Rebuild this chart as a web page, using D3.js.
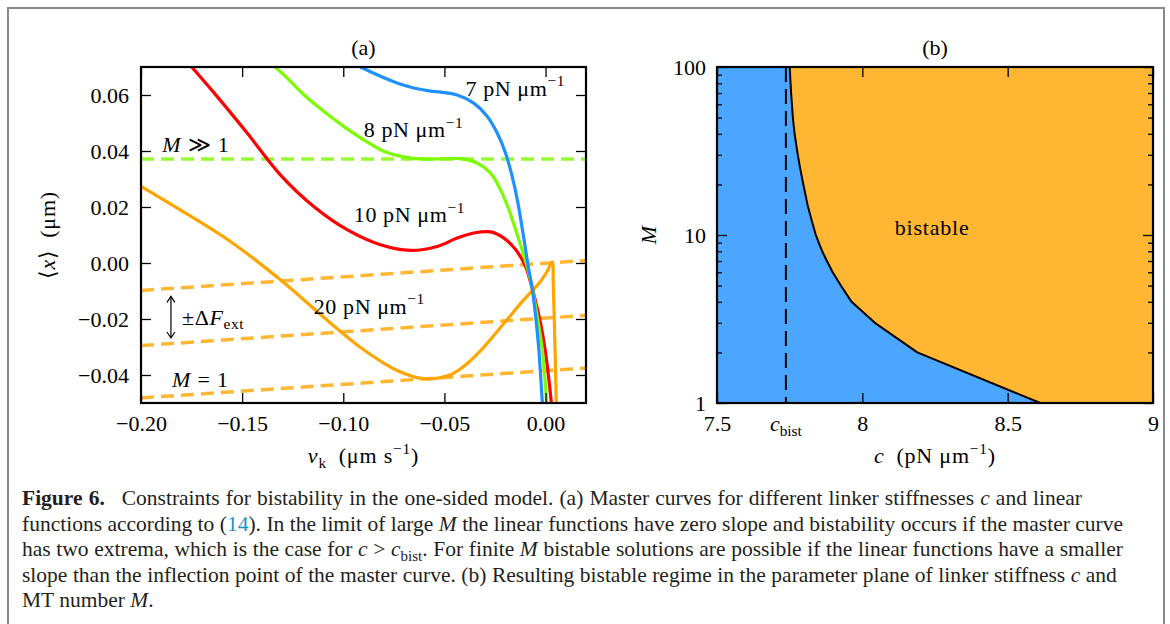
<!DOCTYPE html>
<html>
<head>
<meta charset="utf-8">
<script src="https://cdn.jsdelivr.net/npm/d3@7"></script>
<style>
  body { margin: 0; background: #fff; }
  svg { display: block; font-family: "Liberation Serif", "Tinos", "Times New Roman", "DejaVu Serif", serif; }
</style>
</head>
<body>
<svg id="fig" width="1170" height="624"></svg>
<script>
// ---- Panel (a): master curves <x>(v_k) for several linker stiffnesses ----
const curve7Vk  = [-0.0915,-0.0816,-0.0734,-0.0651,-0.0569,-0.0519,-0.0437,-0.0355,-0.0289,-0.0239,-0.0198,-0.0165,-0.0138,-0.0110,-0.0085,-0.0066,-0.0049,-0.0033,-0.0016,-0.0012];
const curve7X   = [ 0.0700, 0.0667, 0.0643, 0.0625, 0.0614, 0.0610, 0.0600, 0.0571, 0.0524, 0.0464, 0.0393, 0.0309, 0.0220, 0.0100,-0.0015,-0.0089,-0.0191,-0.0310,-0.0494,-0.0520];

const curve8Vk  = [-0.1336,-0.1278,-0.1195,-0.1097,-0.0998,-0.0899,-0.0800,-0.0701,-0.0602,-0.0519,-0.0420,-0.0338,-0.0272,-0.0223,-0.0181,-0.0148,-0.0113,-0.0085,-0.0066,-0.0041,-0.0016, 0.0005, 0.0007];
const curve8X   = [ 0.0700, 0.0661, 0.0601, 0.0542, 0.0488, 0.0440, 0.0399, 0.0379, 0.0371, 0.0372, 0.0373, 0.0357, 0.0321, 0.0262, 0.0190, 0.0119, 0.0040,-0.0030,-0.0089,-0.0191,-0.0310,-0.0494,-0.0520];

const curve10Vk = [-0.1749,-0.1624,-0.1475,-0.1311,-0.1146,-0.0981,-0.0816,-0.0668,-0.0536,-0.0437,-0.0355,-0.0272,-0.0206,-0.0148,-0.0099,-0.0070,-0.0045,-0.0025, 0.0000, 0.0028, 0.0031];
const curve10X  = [ 0.0700, 0.0595, 0.0464, 0.0315, 0.0202, 0.0119, 0.0065, 0.0045, 0.0059, 0.0089, 0.0107, 0.0111, 0.0089, 0.0048,-0.0012,-0.0080,-0.0150,-0.0214,-0.0321,-0.0494,-0.0520];

const curve20Vk = [-0.2000,-0.1806,-0.1558,-0.1311,-0.1064,-0.0899,-0.0734,-0.0602,-0.0470,-0.0404,-0.0322,-0.0190,-0.0107,-0.0025, 0.0008, 0.0033, 0.0038, 0.0045, 0.0053, 0.0054];
const curve20X  = [ 0.0274, 0.0190, 0.0077,-0.0060,-0.0214,-0.0310,-0.0384,-0.0413,-0.0399,-0.0369,-0.0314,-0.0202,-0.0131,-0.0066,-0.0030, 0.0004,-0.0071,-0.0250,-0.0494,-0.0520];

// linear functions: flat one for M >> 1, sloped ones (+/- dF_ext) for M = 1
const linearVk    = [-0.20, 0.02];
const largeMX     = [0.0371, 0.0371];
const linearUpper = [-0.0098, 0.0009];
const linearMid   = [-0.0295,-0.0187];
const linearLower = [-0.0482,-0.0375];

const xTicksA = [-0.20, -0.15, -0.10, -0.05, 0.00];
const yTicksA = [-0.04, -0.02, 0.00, 0.02, 0.04, 0.06];

// ---- Panel (b): bistability boundary in the (c, M) plane ----
const boundaryM = [1, 2, 3, 4, 5, 6, 7, 8, 9, 10, 12, 15, 20, 25, 30, 40, 50, 70, 100];
const boundaryC = [8.612, 8.189, 8.043, 7.963, 7.926, 7.898, 7.878, 7.862, 7.850, 7.840, 7.827, 7.812, 7.797, 7.786, 7.778, 7.767, 7.761, 7.755, 7.750];
const cBist = 7.737;
const xTicksB = [7.5, 8, 8.5, 9];
const yTicksB = [1, 10, 100];
const yMinorB = [2,3,4,5,6,7,8,9,20,30,40,50,60,70,80,90];

const svg = d3.select("#fig");
const FS = 22;
const SERIF = "Liberation Serif, Tinos, Times New Roman, DejaVu Serif, serif";

// outer figure frame
svg.append("rect").attr("x", 8).attr("y", 8).attr("width", 1156).attr("height", 700)
  .attr("fill", "none").attr("stroke", "#8a8a8a").attr("stroke-width", 2);

// rich text: parts with italic / sub / sup
function richText(g, x, y, parts, size, anchor) {
  const t = g.append("text").attr("x", x).attr("y", y).attr("font-family", SERIF)
    .attr("font-size", size).attr("text-anchor", anchor || "start").attr("fill", "#000");
  let shift = 0;
  parts.forEach(p => {
    const target = p.sup ? -0.42 * size : p.sub ? 0.22 * size : 0;
    const ts = t.append("tspan").text(p.t).attr("dy", target - shift);
    shift = target;
    if (p.sup || p.sub) ts.attr("font-size", size * 0.7);
    if (p.it) ts.attr("font-style", "italic");
    if (p.bold) ts.attr("font-weight", "bold");
    if (p.fill) ts.attr("fill", p.fill);
  });
  return t;
}

// ================= Panel (a) =================
const A = { l: 141, r: 586, t: 67, b: 403 };
const xA = d3.scaleLinear().domain([-0.20, 0.02]).range([A.l, A.r]);
const yA = d3.scaleLinear().domain([-0.05, 0.07]).range([A.b, A.t]);
const gA = svg.append("g");

svg.append("clipPath").attr("id", "clipA").append("rect")
  .attr("x", A.l).attr("y", A.t).attr("width", A.r - A.l).attr("height", A.b - A.t);
const plotA = gA.append("g").attr("clip-path", "url(#clipA)");

const lineA = d3.line().x(d => xA(d[0])).y(d => yA(d[1]));
const smoothA = d3.line().x(d => xA(d[0])).y(d => yA(d[1])).curve(d3.curveCatmullRom.alpha(0.5));

// dashed linear functions
[[largeMX, "#7CFC00"], [linearUpper, "#FFA500"], [linearMid, "#FFA500"], [linearLower, "#FFA500"]]
  .forEach(([ys, col]) => {
    plotA.append("path").datum(d3.zip(linearVk, ys)).attr("d", lineA)
      .attr("fill", "none").attr("stroke", col).attr("stroke-opacity", 0.8)
      .attr("stroke-width", 3.5).attr("stroke-dasharray", "13,7");
  });

// master curves
[[curve20Vk, curve20X, "#FFA500"], [curve10Vk, curve10X, "#FF0000"],
 [curve8Vk, curve8X, "#7CFC00"], [curve7Vk, curve7X, "#1E90FF"]]
  .forEach(([vs, xs, col]) => {
    plotA.append("path").datum(d3.zip(vs, xs)).attr("d", smoothA)
      .attr("fill", "none").attr("stroke", col).attr("stroke-width", 3.2)
      .attr("stroke-linejoin", "round");
  });

// axes (ticks pointing inward on all sides)
const fmtA = d3.format(".2f");
function styleAxis(g) {
  g.select(".domain").remove();
  g.attr("font-family", SERIF);
  g.selectAll(".tick line").attr("stroke", "#000").attr("stroke-width", 1.3);
  g.selectAll(".tick text").attr("font-size", FS).attr("font-family", SERIF).attr("fill", "#000");
}
gA.append("g").attr("transform", `translate(0,${A.b})`)
  .call(d3.axisBottom(xA).tickValues(xTicksA).tickFormat(fmtA).tickSize(-10).tickPadding(12)).call(styleAxis);
gA.append("g").attr("transform", `translate(0,${A.t})`)
  .call(d3.axisTop(xA).tickValues(xTicksA).tickFormat("").tickSize(-10)).call(styleAxis);
gA.append("g").attr("transform", `translate(${A.l},0)`)
  .call(d3.axisLeft(yA).tickValues(yTicksA).tickFormat(fmtA).tickSize(-10).tickPadding(12)).call(styleAxis);
gA.append("g").attr("transform", `translate(${A.r},0)`)
  .call(d3.axisRight(yA).tickValues(yTicksA).tickFormat("").tickSize(-10)).call(styleAxis);

gA.append("rect").attr("x", A.l).attr("y", A.t).attr("width", A.r - A.l).attr("height", A.b - A.t)
  .attr("fill", "none").attr("stroke", "#000").attr("stroke-width", 2.2);

// curve annotations
const mu = "\u03bcm";
richText(gA, xA(-0.0396), yA(0.0598), [{ t: "7 pN " + mu }, { t: "\u22121", sup: true }], FS).attr("letter-spacing", 0.6);
richText(gA, xA(-0.0899), yA(0.0450), [{ t: "8 pN " + mu }, { t: "\u22121", sup: true }], FS).attr("letter-spacing", 0.6);
richText(gA, xA(-0.0948), yA(0.0146), [{ t: "10 pN " + mu }, { t: "\u22121", sup: true }], FS).attr("letter-spacing", 0.6);
richText(gA, xA(-0.1146), yA(-0.0181), [{ t: "20 pN " + mu }, { t: "\u22121", sup: true }], FS).attr("letter-spacing", 0.6);
richText(gA, xA(-0.1895), yA(0.0395), [{ t: "M", it: true }, { t: " \u226b 1" }], FS).attr("letter-spacing", 0.8);
richText(gA, xA(-0.1847), yA(-0.0443), [{ t: "M", it: true }, { t: " = 1" }], FS).attr("letter-spacing", 0.8);
richText(gA, xA(-0.1797), yA(-0.0220), [{ t: "\u00b1\u0394" }, { t: "F", it: true }, { t: "ext", sub: true }], FS).attr("letter-spacing", 0.6);

// double-headed arrow for +/- dF_ext
const arrX = xA(-0.1852), arrY1 = yA(-0.0119), arrY2 = yA(-0.0268);
gA.append("line").attr("x1", arrX).attr("x2", arrX).attr("y1", arrY1).attr("y2", arrY2)
  .attr("stroke", "#000").attr("stroke-width", 1.2);
gA.append("path").attr("d", `M${arrX - 4},${arrY1 + 6}L${arrX},${arrY1}L${arrX + 4},${arrY1 + 6}`)
  .attr("fill", "none").attr("stroke", "#000").attr("stroke-width", 1.2);
gA.append("path").attr("d", `M${arrX - 4},${arrY2 - 6}L${arrX},${arrY2}L${arrX + 4},${arrY2 - 6}`)
  .attr("fill", "none").attr("stroke", "#000").attr("stroke-width", 1.2);

// titles and axis labels
richText(gA, (A.l + A.r) / 2, 55, [{ t: "(a)" }], FS, "middle");
richText(gA, (A.l + A.r) / 2, 463, [{ t: "v", it: true }, { t: "k", sub: true }, { t: "\u2002(" + mu + " s" }, { t: "\u22121", sup: true }, { t: ")" }], FS, "middle").attr("letter-spacing", 0.8);
const yLabA = gA.append("g").attr("transform", `translate(55,${(A.t + A.b) / 2}) rotate(-90)`);
richText(yLabA, 0, 0, [{ t: "\u27e8" }, { t: "x", it: true }, { t: "\u27e9\u2002(" + mu + ")" }], FS, "middle").attr("letter-spacing", 0.8);

// ================= Panel (b) =================
const B = { l: 717, r: 1153, t: 67, b: 403 };
const xB = d3.scaleLinear().domain([7.5, 9]).range([B.l, B.r]);
const yB = d3.scaleLog().domain([1, 100]).range([B.b, B.t]);
const gB = svg.append("g");

// monostable background and bistable region
gB.append("rect").attr("x", B.l).attr("y", B.t).attr("width", B.r - B.l).attr("height", B.b - B.t)
  .attr("fill", "#4BA6FF");

const boundary = d3.zip(boundaryC, boundaryM);
const bistableRegion = boundary.concat([[9, 100], [9, 1]]);
const lineB = d3.line().x(d => xB(d[0])).y(d => yB(d[1]));
gB.append("path").attr("d", lineB(bistableRegion) + "Z")
  .attr("fill", "#FFB733").attr("stroke", "none");
gB.append("path").datum(boundary).attr("d", lineB)
  .attr("fill", "none").attr("stroke", "#000").attr("stroke-width", 2).attr("stroke-linejoin", "round");
gB.append("line").attr("x1", xB(cBist)).attr("x2", xB(cBist)).attr("y1", B.t).attr("y2", B.b)
  .attr("stroke", "#000").attr("stroke-width", 2).attr("stroke-dasharray", "15,7");

const fmtB = d => String(d);
gB.append("g").attr("transform", `translate(0,${B.b})`)
  .call(d3.axisBottom(xB).tickValues(xTicksB).tickFormat(fmtB).tickSize(-10).tickPadding(12)).call(styleAxis);
gB.append("g").attr("transform", `translate(0,${B.t})`)
  .call(d3.axisTop(xB).tickValues(xTicksB).tickFormat("").tickSize(-10)).call(styleAxis);
gB.append("g").attr("transform", `translate(${B.l},0)`)
  .call(d3.axisLeft(yB).tickValues(yTicksB).tickFormat(fmtB).tickSize(-10).tickPadding(11)).call(styleAxis);
gB.append("g").attr("transform", `translate(${B.r},0)`)
  .call(d3.axisRight(yB).tickValues(yTicksB).tickFormat("").tickSize(-10)).call(styleAxis);
gB.append("g").attr("transform", `translate(${B.l},0)`)
  .call(d3.axisLeft(yB).tickValues(yMinorB).tickFormat("").tickSize(-5)).call(styleAxis);
gB.append("g").attr("transform", `translate(${B.r},0)`)
  .call(d3.axisRight(yB).tickValues(yMinorB).tickFormat("").tickSize(-5)).call(styleAxis);

gB.append("rect").attr("x", B.l).attr("y", B.t).attr("width", B.r - B.l).attr("height", B.b - B.t)
  .attr("fill", "none").attr("stroke", "#000").attr("stroke-width", 2.2);

richText(gB, xB(cBist), 431, [{ t: "c", it: true }, { t: "bist", sub: true }], FS, "middle");
richText(gB, xB(8.24), yB(10), [{ t: "bistable" }], FS, "middle").attr("letter-spacing", 0.8);
richText(gB, (B.l + B.r) / 2, 55, [{ t: "(b)" }], FS, "middle");
richText(gB, (B.l + B.r) / 2, 463, [{ t: "c", it: true }, { t: "\u2002(pN " + mu }, { t: "\u22121", sup: true }, { t: ")" }], FS, "middle").attr("letter-spacing", 0.8);
const yLabB = gB.append("g").attr("transform", `translate(656,${(B.t + B.b) / 2}) rotate(-90)`);
richText(yLabB, 0, 0, [{ t: "M", it: true }], FS, "middle");

// ================= Caption =================
const capBlue = "#1a8fd6";
const captionLines = [
  [{ t: "Figure 6.", bold: true }, { t: "\u2002 Constraints for bistability in the one-sided model. (a) Master curves for different linker stiffnesses " }, { t: "c", it: true }, { t: " and linear" }],
  [{ t: "functions according to (" }, { t: "14", fill: capBlue }, { t: "). In the limit of large " }, { t: "M", it: true }, { t: " the linear functions have zero slope and bistability occurs if the master curve" }],
  [{ t: "has two extrema, which is the case for " }, { t: "c", it: true }, { t: " > " }, { t: "c", it: true }, { t: "bist", sub: true }, { t: ". For finite " }, { t: "M", it: true }, { t: " bistable solutions are possible if the linear functions have a smaller" }],
  [{ t: "slope than the inflection point of the master curve. (b) Resulting bistable regime in the parameter plane of linker stiffness " }, { t: "c", it: true }, { t: " and" }],
  [{ t: "MT number " }, { t: "M", it: true }, { t: "." }]
];
const captionRight = [1082, 1123, 1123, 1117, null];
const captionY = [505, 531, 556, 582, 607];
const gC = svg.append("g");

function drawCaption(size) {
  gC.selectAll("*").remove();
  return captionLines.map((parts, i) => {
    const t = richText(gC, 22, captionY[i], parts, size, "start").attr("fill", "#231f20");
    t.selectAll("tspan").filter(function () { return !this.getAttribute("fill"); }).attr("fill", "#231f20");
    return t;
  });
}
// size the caption so the longest line fills the text block, then justify
let capTexts = drawCaption(19);
const w2 = capTexts[1].node().getBBox().width;
const capSize = Math.max(17, Math.min(21.5, 19 * (captionRight[1] - 22) / w2));
capTexts = drawCaption(capSize);
capTexts.forEach((t, i) => {
  if (!captionRight[i]) return;
  const w = t.node().getBBox().width;
  const spaces = captionLines[i].map(p => p.t).join("").split(" ").length - 1;
  const extra = Math.max(-1.5, Math.min(4, (captionRight[i] - 22 - w) / spaces));
  t.attr("word-spacing", extra);
});
</script>
</body>
</html>
